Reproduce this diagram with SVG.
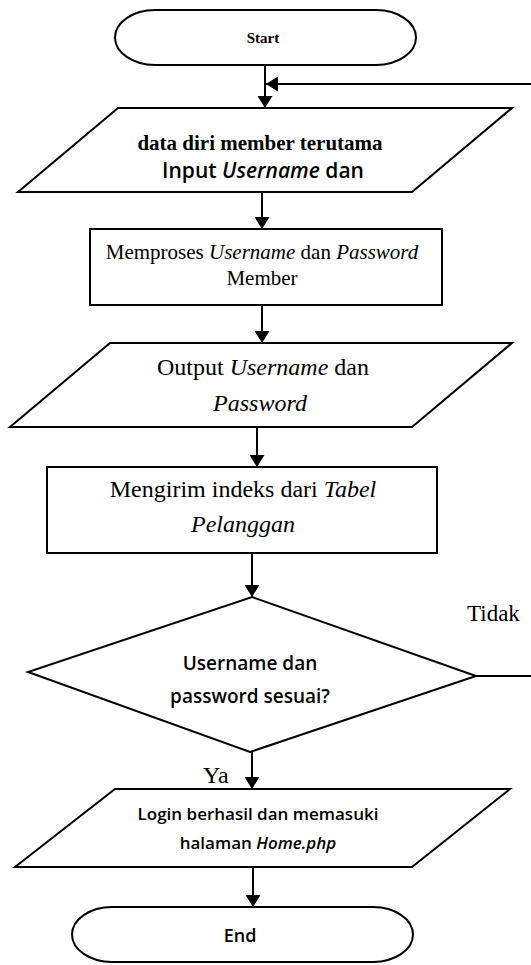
<svg xmlns="http://www.w3.org/2000/svg" width="531" height="965" viewBox="0 0 531 965">
<style>
.s{fill:#fff;stroke:#000;stroke-width:2}
.c{fill:none;stroke:#000;stroke-width:2}
.t{font-family:"Liberation Serif","Times New Roman",serif;fill:#000;text-anchor:middle}
.k{font-family:"Open Sans","Liberation Sans",sans-serif;fill:#000;text-anchor:middle;font-weight:600}
.i{font-style:italic}
</style>
<defs>
<marker id="a" markerWidth="12" markerHeight="15" refX="12" refY="7.5" orient="auto" markerUnits="userSpaceOnUse">
<path d="M0,0 L12,7.5 L0,15 Z" fill="#000"/>
</marker>
</defs>
<rect width="531" height="965" fill="#fff"/>
<g id="connectors">
<line class="c" x1="265" y1="65" x2="265" y2="108" marker-end="url(#a)"/>
<line class="c" x1="531" y1="84" x2="266" y2="84" marker-end="url(#a)"/>
<line class="c" x1="262" y1="192" x2="262" y2="229" marker-end="url(#a)"/>
<line class="c" x1="262" y1="305" x2="262" y2="343" marker-end="url(#a)"/>
<line class="c" x1="257" y1="427" x2="257" y2="467" marker-end="url(#a)"/>
<line class="c" x1="252" y1="553" x2="252" y2="597" marker-end="url(#a)"/>
<polyline class="c" points="476,676 531,676"/>
<line class="c" x1="252" y1="752" x2="252" y2="789" marker-end="url(#a)"/>
<line class="c" x1="253" y1="867" x2="253" y2="907" marker-end="url(#a)"/>
<text class="t" x="467" y="621" font-size="23" text-anchor="start" style="text-anchor:start">Tidak</text>
<text class="t" x="203" y="783" font-size="24" style="text-anchor:start">Ya</text>
</g>
<g id="start">
<rect class="s" x="115" y="10" width="301" height="55" rx="40" ry="27.5"/>
<text class="t" x="263" y="43" font-size="15" font-weight="bold">Start</text>
</g>
<g id="input1">
<polygon class="s" points="118,108 512,108 412,192 18,192"/>
<text class="t" x="260" y="150" font-size="21" font-weight="bold">data diri member terutama</text>
<text class="k" x="263" y="178" font-size="21" font-weight="normal">Input <tspan class="i">Username</tspan> dan</text>
</g>
<g id="process1">
<rect class="s" x="90" y="229" width="352" height="76"/>
<text class="t" x="262" y="259" font-size="21">Memproses <tspan class="i">Username</tspan> dan <tspan class="i">Password</tspan></text>
<text class="t" x="262" y="285" font-size="21">Member</text>
</g>
<g id="output1">
<polygon class="s" points="110,343 512,343 412,427 10,427"/>
<text class="t" x="263" y="375" font-size="24">Output <tspan class="i">Username</tspan> dan</text>
<text class="t i" x="260" y="411" font-size="24">Password</text>
</g>
<g id="process2">
<rect class="s" x="47" y="467" width="390" height="86"/>
<text class="t" x="243" y="497" font-size="24">Mengirim indeks dari <tspan class="i">Tabel</tspan></text>
<text class="t i" x="243" y="532" font-size="24">Pelanggan</text>
</g>
<g id="decision">
<polygon class="s" points="252,597 476,676 250,752 28,672"/>
<text class="k" x="250" y="670" font-size="19">Username dan</text>
<text class="k" x="250" y="703" font-size="19">password sesuai?</text>
</g>
<g id="output2">
<polygon class="s" points="115,789 510,789 412,867 15,867"/>
<text class="k" x="258" y="820" font-size="17">Login berhasil dan memasuki</text>
<text class="k" x="258" y="849" font-size="17">halaman <tspan class="i">Home.php</tspan></text>
</g>
<g id="end">
<rect class="s" x="72" y="907" width="341" height="55" rx="40" ry="27.5"/>
<text class="k" x="240" y="942" font-size="18">End</text>
</g>
</svg>
